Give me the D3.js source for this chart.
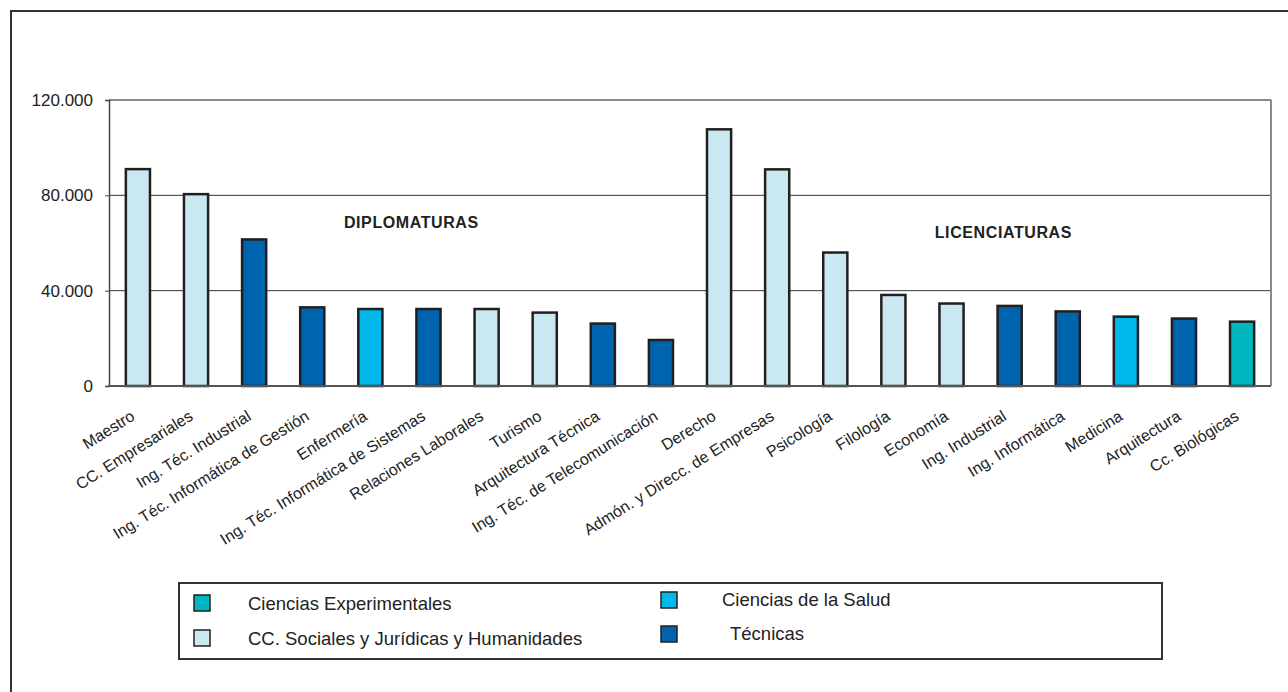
<!DOCTYPE html>
<html><head><meta charset="utf-8">
<script src="https://cdn.jsdelivr.net/npm/d3@7"></script>
<style>body{margin:0;background:#fff}svg{display:block}text{font-family:Arial,"Liberation Sans",sans-serif}</style>
</head><body><svg id="c" width="1288" height="692"></svg>
<script>
const categories = ["Maestro","CC. Empresariales","Ing. Téc. Industrial","Ing. Téc. Informática de Gestión","Enfermería","Ing. Téc. Informática de Sistemas","Relaciones Laborales","Turismo","Arquitectura Técnica","Ing. Téc. de Telecomunicación","Derecho","Admón. y Direcc. de Empresas","Psicología","Filología","Economía","Ing. Industrial","Ing. Informática","Medicina","Arquitectura","Cc. Biológicas"];
const values = [91000,80500,61500,33000,32300,32300,32300,30800,26200,19300,107700,90900,56000,38200,34600,33600,31300,29100,28300,27000];
const areas = ["soc","soc","tec","tec","sal","tec","soc","soc","tec","tec","soc","soc","soc","soc","soc","tec","tec","sal","tec","exp"];
const yTicks = [0,40000,80000,120000];
const tickLabels = ["0","40.000","80.000","120.000"];
const legendKeys = ["exp","sal","soc","tec"];
const legendLabels = ["Ciencias Experimentales","Ciencias de la Salud","CC. Sociales y Jurídicas y Humanidades","Técnicas"];
const groupLabels = ["DIPLOMATURAS","LICENCIATURAS"];
const groupPos = [{cat:"Enfermería",v:66500},{cat:"Filología",v:62000}];

const colors = {exp:"#00b7c0",sal:"#00b9ea",soc:"#c9e8f1",tec:"#0063ae"};
const svg = d3.select("#c");
const L=109,R=1271,T=100,B=386;
const x = d3.scaleBand().domain(categories).range([L,R]).paddingInner(0.585).paddingOuter(0.29);
const y = d3.scaleLinear().domain([0,120000]).range([B,T]);

// outer frame
svg.append("rect").attr("x",11).attr("y",11).attr("width",1300).attr("height",700)
  .attr("fill","none").attr("stroke","#333").attr("stroke-width",2);

// gridlines
svg.append("g").selectAll("line").data(yTicks.filter(d=>d>0&&d<120000)).join("line")
  .attr("x1",L).attr("x2",R).attr("y1",d=>y(d)).attr("y2",d=>y(d))
  .attr("stroke","#333").attr("stroke-width",1);
// top and right borders
svg.append("line").attr("x1",L).attr("x2",R).attr("y1",y(120000)).attr("y2",y(120000)).attr("stroke","#8a8a8a").attr("stroke-width",2);
svg.append("line").attr("x1",R).attr("x2",R).attr("y1",T).attr("y2",B).attr("stroke","#8a8a8a").attr("stroke-width",2);

// y axis
const ya = svg.append("g").attr("transform",`translate(${L},0)`)
  .call(d3.axisLeft(y).tickValues(yTicks).tickSize(4).tickPadding(12).tickFormat((d,i)=>tickLabels[i]));
ya.select(".domain").attr("stroke","#444").attr("stroke-width",1.5);
ya.selectAll(".tick line").attr("stroke","#444");
ya.selectAll("text").attr("font-size",17).attr("fill","#222").style("font-family","Arial, Liberation Sans, sans-serif");

// bars
svg.append("g").selectAll("rect").data(categories).join("rect")
  .attr("x",d=>x(d)).attr("width",x.bandwidth())
  .attr("y",(d,i)=>y(values[i])).attr("height",(d,i)=>y(0)-y(values[i]))
  .attr("fill",(d,i)=>colors[areas[i]]).attr("stroke","#231f20").attr("stroke-width",2.5);

// x axis line
svg.append("line").attr("x1",L-1).attr("x2",R).attr("y1",B).attr("y2",B).attr("stroke","#555").attr("stroke-width",2);

// x labels
svg.append("g").selectAll("text").data(categories).join("text")
  .attr("transform",d=>`translate(${x(d)+x.bandwidth()/2-2},${B+33}) rotate(-32)`)
  .attr("text-anchor","end").attr("font-size",16).attr("fill","#222").text(d=>d);

// group labels
svg.append("g").selectAll("text").data(groupLabels).join("text")
  .attr("x",(d,i)=>x(groupPos[i].cat)+x.bandwidth()/2+(i==0?41:110))
  .attr("y",(d,i)=>y(groupPos[i].v))
  .attr("text-anchor","middle").attr("font-size",16).attr("font-weight","bold")
  .attr("letter-spacing",0.6).attr("fill","#222").text(d=>d);

// legend
svg.append("rect").attr("x",179).attr("y",583).attr("width",983).attr("height",76)
  .attr("fill","#fff").attr("stroke","#333").attr("stroke-width",2);
const lpos = [{sx:194,sy:595,tx:248,ty:610},{sx:661,sy:592,tx:722,ty:606},{sx:194,sy:630,tx:248,ty:645},{sx:661,sy:626,tx:730,ty:640}];
const lg = svg.append("g").selectAll("g").data(legendKeys).join("g");
lg.append("rect").attr("x",(d,i)=>lpos[i].sx).attr("y",(d,i)=>lpos[i].sy).attr("width",16).attr("height",16)
  .attr("fill",d=>colors[d]).attr("stroke","#231f20").attr("stroke-width",1.5);
lg.append("text").attr("x",(d,i)=>lpos[i].tx).attr("y",(d,i)=>lpos[i].ty)
  .attr("font-size",18.5).attr("fill","#222").text((d,i)=>legendLabels[i]);
</script></body></html>
